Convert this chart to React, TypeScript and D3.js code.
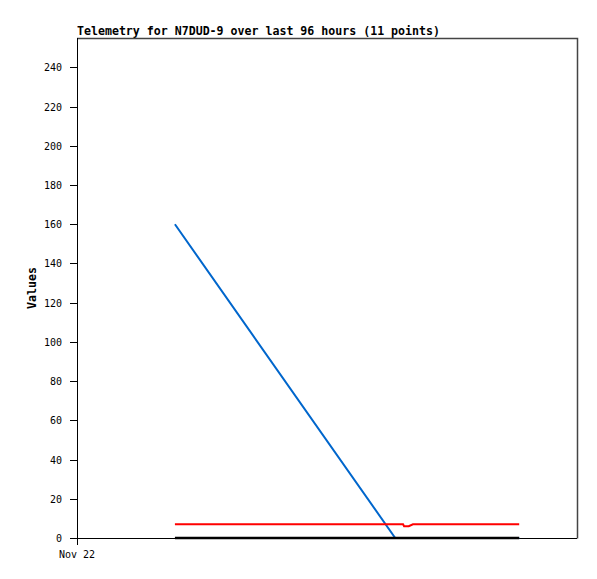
import * as d3 from "d3";

// hours since Nov 22 00:00, last 96 hours window
const times = [18.8, 61.1, 62.6, 62.8, 63.7, 64.5, 66, 70, 75, 80, 84.9];
const blue = [160, 0, 0, 0, 0, 0, 0, 0, 0, 0, 0];
const red = [7, 7, 7, 6, 6, 7, 7, 7, 7, 7, 7];
const black = [0, 0, 0, 0, 0, 0, 0, 0, 0, 0, 0];
const yTicks = [0, 20, 40, 60, 80, 100, 120, 140, 160, 180, 200, 220, 240];
const xTicks = [{ t: 0, label: "Nov 22" }];

const title = "Telemetry for N7DUD-9 over last 96 hours (11 points)";

export default function App() {
  const width = 597;
  const height = 579;
  const marginLeft = 77;
  const marginRight = 20;
  const marginTop = 38;
  const marginBottom = 41;

  const x = d3.scaleLinear([0, 96], [marginLeft, width - marginRight]);
  const y = d3.scaleLinear([0, 255], [height - marginBottom, marginTop]);

  const line = (vals: number[]) =>
    d3
      .line<number>()
      .x((_, i) => x(times[i]))
      .y((d) => y(d))(vals) ?? "";

  const font = "'DejaVu Sans Mono', monospace";
  const x0 = x.range()[0];
  const y0 = y.range()[0];

  return (
    <div style={{ position: "absolute", left: 0, top: 0 }}>
      <svg width={width} height={height} style={{ display: "block", background: "#fff" }}>
        <text x={x0} y={marginTop - 3} fontFamily={font} fontWeight="bold" fontSize={11.6} fill="#000">
          {title}
        </text>
        {/* frame */}
        <path
          d={`M${x0},${marginTop + 0.5}H${x.range()[1] + 0.5}V${y0 + 0.5}`}
          fill="none"
          stroke="#444"
          strokeWidth={1.5}
        />
        <g shapeRendering="crispEdges">
          <line x1={x0 + 0.5} x2={x0 + 0.5} y1={marginTop} y2={y0 + 7} stroke="#000" />
          <line x1={x0 - 7} x2={x.range()[1]} y1={y0 + 0.5} y2={y0 + 0.5} stroke="#000" />
          {yTicks.map((t) => (
            <line key={t} x1={x0 - 7} x2={x0} y1={Math.round(y(t)) + 0.5} y2={Math.round(y(t)) + 0.5} stroke="#000" />
          ))}
        </g>
        {yTicks.map((t) => (
          <text
            key={t}
            x={x0 - 15}
            y={y(t) + 4}
            textAnchor="end"
            fontFamily={font}
            fontSize={10}
            fill="#000"
          >
            {t}
          </text>
        ))}
        {xTicks.map((d) => (
          <text key={d.t} x={x(d.t)} y={y0 + 20} textAnchor="middle" fontFamily={font} fontSize={10} fill="#000">
            {d.label}
          </text>
        ))}
        <text
          transform={`translate(36,${(marginTop + y0) / 2}) rotate(-90)`}
          textAnchor="middle"
          fontFamily={font}
          fontWeight="bold"
          fontSize={11.6}
          fill="#000"
        >
          Values
        </text>
        <path d={line(blue)} fill="none" stroke="#0066cc" strokeWidth={2} />
        <path d={line(red)} fill="none" stroke="#ff0000" strokeWidth={2} />
        <path d={line(black)} fill="none" stroke="#000" strokeWidth={2.5} />
      </svg>
    </div>
  );
}
